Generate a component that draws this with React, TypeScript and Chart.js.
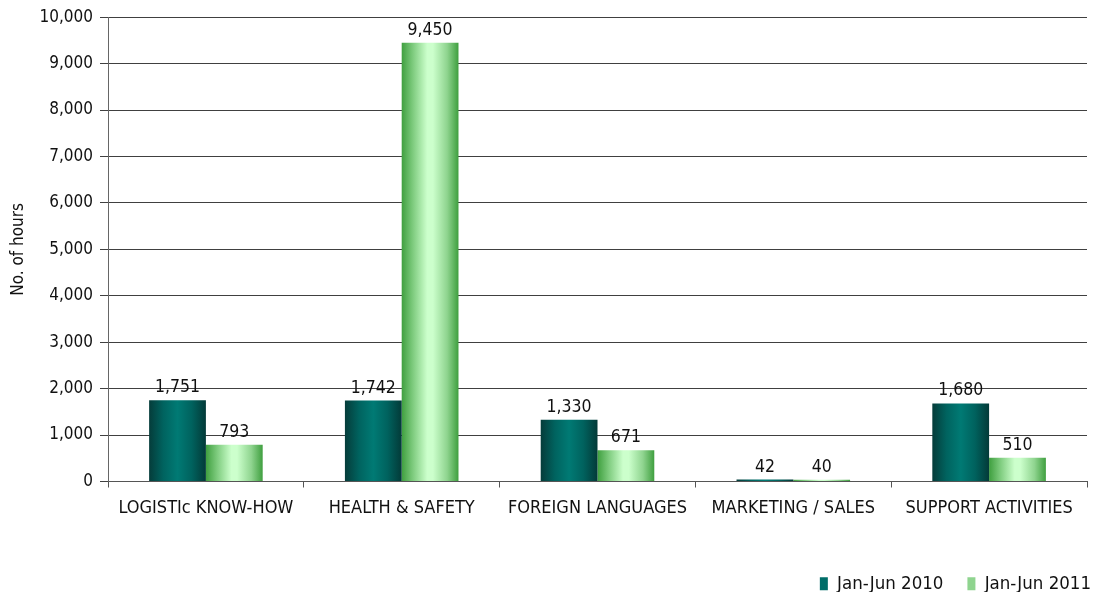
import React, { useEffect, useRef } from "react";
import { Chart, registerables } from "chart.js";

Chart.register(...registerables);

const categories = ["LOGISTIc KNOW-HOW", "HEALTH & SAFETY", "FOREIGN LANGUAGES", "MARKETING / SALES", "SUPPORT ACTIVITIES"];
const series2010 = [1751, 1742, 1330, 42, 1680];
const series2011 = [793, 9450, 671, 40, 510];
const seriesLabels = ["Jan-Jun 2010", "Jan-Jun 2011"];
const yTicks = [0, 1000, 2000, 3000, 4000, 5000, 6000, 7000, 8000, 9000, 10000];

const FONT = "'DejaVu Sans Condensed', 'DejaVu Sans', sans-serif";

const gradStops: [number, string][][] = [
  [[0, "#053c3a"], [0.25, "#00635f"], [0.5, "#007a74"], [0.75, "#00625e"], [1, "#033a38"]],
  [[0, "#3f9f3f"], [0.2, "#7fcc7f"], [0.45, "#ccffcc"], [0.55, "#ccffcc"], [0.8, "#8fd48f"], [1, "#3f9f3f"]],
];

const gradientPlugin = {
  id: "barGradients",
  afterLayout(chart: any) {
    const lg = chart.legend;
    if (lg) {
      lg.left += 28;
      lg.right += 28;
      lg.top += 11;
      lg.bottom += 11;
    }
  },
  beforeDatasetsDraw(chart: any) {
    const ctx = chart.ctx;
    chart.data.datasets.forEach((ds: any, di: number) => {
      const meta = chart.getDatasetMeta(di);
      meta.data.forEach((el: any) => {
        const left = el.x - el.width / 2;
        const right = el.x + el.width / 2;
        const g = ctx.createLinearGradient(left, 0, right, 0);
        gradStops[di].forEach(([o, c]) => g.addColorStop(o, c));
        el.options = { ...el.options, backgroundColor: g };
      });
    });
  },
  afterDatasetsDraw(chart: any) {
    const ctx = chart.ctx;
    ctx.save();
    ctx.font = `17.5px ${FONT}`;
    ctx.fillStyle = "#111";
    ctx.textAlign = "center";
    ctx.textBaseline = "alphabetic";
    chart.data.datasets.forEach((ds: any, di: number) => {
      const meta = chart.getDatasetMeta(di);
      meta.data.forEach((el: any, i: number) => {
        const v = ds.data[i];
        ctx.fillText(v.toLocaleString("en-US"), el.x, el.y - 8);
      });
    });
    ctx.restore();
  },
};

export default function App() {
  const ref = useRef<HTMLCanvasElement>(null);
  useEffect(() => {
    const chart = new Chart(ref.current!, {
      type: "bar",
      data: {
        labels: categories,
        datasets: [
          { label: seriesLabels[0], data: series2010, backgroundColor: "#006d68", categoryPercentage: 0.58, barPercentage: 1 },
          { label: seriesLabels[1], data: series2011, backgroundColor: "#8fd48f", categoryPercentage: 0.58, barPercentage: 1 },
        ],
      },
      options: {
        animation: false,
        responsive: false,
        maintainAspectRatio: false,
        layout: { padding: { left: 0, right: 7, top: 17, bottom: 0 } },
        plugins: {
          legend: {
            position: "bottom",
            align: "end",
            labels: {
              boxWidth: 8,
              boxHeight: 13,
              padding: 24,
              color: "#111",
              font: { family: FONT, size: 18.5 },
            },
          },
          tooltip: { enabled: false },
        },
        scales: {
          x: {
            afterFit: (axis: any) => {
              axis.height = 58;
            },
            grid: { display: true, drawOnChartArea: false, drawTicks: true, tickLength: 6, color: "#555", offset: true },
            border: { color: "#555", width: 1 },
            ticks: { color: "#111", font: { family: FONT, size: 18 }, padding: 10, maxRotation: 0, autoSkip: false },
          },
          y: {
            min: 0,
            max: 10000,
            afterFit: (axis: any) => {
              axis.width = 108;
            },
            afterBuildTicks: (axis: any) => {
              axis.ticks = yTicks.map((v) => ({ value: v }));
            },
            grid: { color: "#404040", lineWidth: 1, drawTicks: true, tickLength: 8 },
            border: { color: "#666", width: 1 },
            ticks: {
              color: "#111",
              font: { family: FONT, size: 17 },
              padding: 7,
              callback: (v: any) => Number(v).toLocaleString("en-US"),
            },
            title: { display: true, text: "No. of hours", color: "#111", font: { family: FONT, size: 17 }, padding: { top: 8, bottom: 0 } },
          },
        },
      },
      plugins: [gradientPlugin],
    });
    return () => chart.destroy();
  }, []);
  return (
    <div style={{ position: "fixed", left: 0, top: 0, width: 1094, height: 592, background: "#fff" }}>
      <canvas ref={ref} width={1094} height={592} />
    </div>
  );
}
